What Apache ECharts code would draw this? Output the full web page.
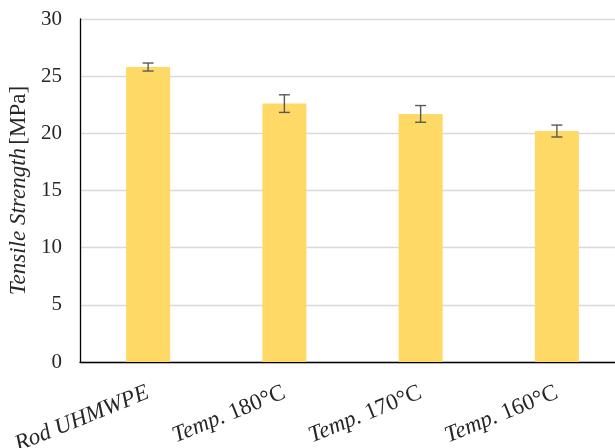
<!DOCTYPE html>
<html>
<head>
<meta charset="utf-8">
<script src="https://cdn.jsdelivr.net/npm/echarts@6/dist/echarts.min.js"></script>
<style>
  html, body { margin: 0; padding: 0; background: #fff; }
  #chart { width: 615px; height: 448px; }
</style>
</head>
<body>
<div id="chart"></div>
<script>
// Tensile strength per sample group, with standard deviation
const categories = ['Rod UHMWPE', 'Temp. 180°C', 'Temp. 170°C', 'Temp. 160°C'];
const strength = [25.8, 22.6, 21.7, 20.2];
const deviation = [0.35, 0.77, 0.73, 0.52];
const yTicks = [0, 5, 10, 15, 20, 25, 30];

const serif = '"Liberation Serif", "Times New Roman", serif';
const textColor = '#262626';

// x labels: "Rod ..." fully italic, "Temp." italic followed by upright temperature
function xLabel(v) {
  if (v.indexOf('Temp.') === 0) {
    return '{it|Temp.}{up|' + v.slice(5) + '}';
  }
  return '{it|' + v + '}';
}

const errorData = strength.map((v, i) => [i, v - deviation[i], v + deviation[i]]);

const chart = echarts.init(document.getElementById('chart'));
chart.setOption({
  animation: false,
  grid: {
    left: 80, top: 19, width: 545, height: 343,
    containLabel: false, outerBoundsMode: 'none'
  },
  xAxis: {
    type: 'category',
    data: categories,
    axisLine: { lineStyle: { color: '#000', width: 1.3 } },
    axisTick: { show: false },
    axisLabel: {
      rotate: 22,
      interval: 0,
      margin: 30,
      formatter: xLabel,
      rich: {
        it: { fontFamily: serif, fontSize: 23, fontStyle: 'italic', color: textColor },
        up: { fontFamily: serif, fontSize: 23, color: textColor }
      }
    }
  },
  yAxis: {
    type: 'value',
    min: yTicks[0],
    max: yTicks[yTicks.length - 1],
    interval: 5,
    axisLine: { show: true, lineStyle: { color: '#000', width: 1.3 } },
    axisTick: { show: false },
    splitLine: { lineStyle: { color: '#d9d9d9', width: 1.3 } },
    axisLabel: { fontFamily: serif, fontSize: 21, color: textColor, margin: 18 },
    name: '{it|Tensile Strength} {up|[MPa]}',
    nameLocation: 'middle',
    nameRotate: 90,
    nameGap: 43,
    nameTextStyle: {
      rich: {
        it: { fontFamily: serif, fontSize: 23, fontStyle: 'italic', color: textColor },
        up: { fontFamily: serif, fontSize: 23, color: textColor }
      }
    }
  },
  series: [
    {
      type: 'bar',
      data: strength,
      barWidth: 44,
      itemStyle: { color: '#FFD966' }
    },
    {
      type: 'custom',
      data: errorData,
      z: 10,
      renderItem: function (params, api) {
        const x = api.value(0);
        const lo = api.coord([x, api.value(1)]);
        const hi = api.coord([x, api.value(2)]);
        const half = 5.5;
        const style = { stroke: '#595959', lineWidth: 1.4 };
        return {
          type: 'group',
          children: [
            { type: 'line', shape: { x1: lo[0], y1: lo[1], x2: hi[0], y2: hi[1] }, style: style },
            { type: 'line', shape: { x1: lo[0] - half, y1: lo[1], x2: lo[0] + half, y2: lo[1] }, style: style },
            { type: 'line', shape: { x1: hi[0] - half, y1: hi[1], x2: hi[0] + half, y2: hi[1] }, style: style }
          ]
        };
      }
    }
  ]
});
</script>
</body>
</html>
